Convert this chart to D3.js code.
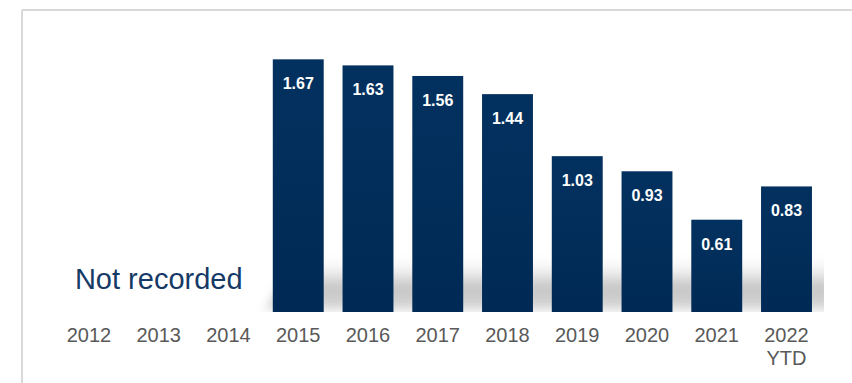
<!DOCTYPE html>
<html>
<head>
    <title>Yearly rate</title>
    <script src="https://d3js.org/d3.v7.min.js"></script>
    <style>
        body { margin: 0; background: #fff; }
        .tick-label {
            font-family: "Liberation Sans", Arial, sans-serif;
            font-size: 20px;
            fill: #595959;
        }
        .value-label {
            font-family: "Liberation Sans", Arial, sans-serif;
            font-size: 16px;
            font-weight: bold;
            fill: #fff;
        }
    </style>
</head>
<body>
<div id="chart"></div>

<script>
    // data
    var years = ["2012", "2013", "2014", "2015", "2016", "2017", "2018", "2019", "2020", "2021", "2022"];
    var yearLines = [["2012"], ["2013"], ["2014"], ["2015"], ["2016"], ["2017"], ["2018"], ["2019"], ["2020"], ["2021"], ["2022", "YTD"]];
    var values = [null, null, null, 1.67, 1.63, 1.56, 1.44, 1.03, 0.93, 0.61, 0.83];
    var missingNote = "Not recorded";

    var width = 852;
    var height = 383;
    var baseline = 312;

    var svg = d3.select("#chart").append("svg")
        .attr("width", width)
        .attr("height", height);

    var defs = svg.append("defs");

    var barGrad = defs.append("linearGradient")
        .attr("id", "barGrad")
        .attr("x1", 0).attr("y1", 0).attr("x2", 0).attr("y2", 1);
    barGrad.append("stop").attr("offset", "0%").attr("stop-color", "#03315f");
    barGrad.append("stop").attr("offset", "100%").attr("stop-color", "#002a55");

    var shadowGrad = defs.append("linearGradient")
        .attr("id", "shadowGrad")
        .attr("x1", 0).attr("y1", 0).attr("x2", 0).attr("y2", 1);
    shadowGrad.append("stop").attr("offset", "0%").attr("stop-color", "#ffffff").attr("stop-opacity", 0);
    shadowGrad.append("stop").attr("offset", "55%").attr("stop-color", "#c6c6c6").attr("stop-opacity", 1);
    shadowGrad.append("stop").attr("offset", "85%").attr("stop-color", "#d0d0d0").attr("stop-opacity", 1);
    shadowGrad.append("stop").attr("offset", "100%").attr("stop-color", "#f0f0f0").attr("stop-opacity", 1);

    defs.append("filter")
        .attr("id", "blur")
        .attr("x", "-10%").attr("y", "-30%").attr("width", "120%").attr("height", "160%")
        .append("feGaussianBlur")
        .attr("stdDeviation", 5);

    // frame lines
    svg.append("line")
        .attr("x1", 22).attr("y1", 10).attr("x2", width).attr("y2", 10)
        .attr("stroke", "#d9d9d9").attr("stroke-width", 2);
    svg.append("line")
        .attr("x1", 22).attr("y1", 10).attr("x2", 22).attr("y2", height)
        .attr("stroke", "#d9d9d9").attr("stroke-width", 2);

    var step = 69.75;
    var x = d3.scaleBand()
        .domain(years)
        .range([89 - step / 2, 89 - step / 2 + step * years.length])
        .paddingInner(0.27)
        .paddingOuter(0.135);

    var y = d3.scaleLinear()
        .domain([0, 2])
        .range([baseline, baseline - 302.6]);

    var data = years.map(function(d, i) {
        return { year: d, lines: yearLines[i], value: values[i] };
    });
    var recorded = data.filter(function(d) { return d.value !== null; });

    // soft floor shadow behind the bars, cut off sharply on the right
    var first = x(recorded[0].year);
    var last = x(recorded[recorded.length - 1].year) + x.bandwidth();
    defs.append("clipPath")
        .attr("id", "shadowClip")
        .append("rect")
        .attr("x", first - 30).attr("y", baseline - 90)
        .attr("width", last + 12 - (first - 30)).attr("height", 90);
    svg.append("g")
        .attr("clip-path", "url(#shadowClip)")
        .append("path")
        .attr("d", "M" + (first - 10) + "," + baseline +
            " L" + (first + 30) + "," + (baseline - 58) +
            " L" + (last + 30) + "," + (baseline - 58) +
            " L" + (last + 30) + "," + baseline + " Z")
        .attr("fill", "url(#shadowGrad)")
        .attr("filter", "url(#blur)");

    // bars
    svg.selectAll(".bar")
        .data(recorded)
        .enter().append("rect")
        .attr("class", "bar")
        .attr("x", function(d) { return x(d.year); })
        .attr("y", function(d) { return y(d.value); })
        .attr("width", x.bandwidth())
        .attr("height", function(d) { return baseline - y(d.value); })
        .attr("fill", "url(#barGrad)");

    // value labels inside the bars
    svg.selectAll(".value-label")
        .data(recorded)
        .enter().append("text")
        .attr("class", "value-label")
        .attr("x", function(d) { return x(d.year) + x.bandwidth() / 2; })
        .attr("y", function(d) { return y(d.value) + 30; })
        .attr("text-anchor", "middle")
        .text(function(d) { return d.value.toFixed(2); });

    // category labels
    var ticks = svg.selectAll(".tick-label")
        .data(data)
        .enter().append("text")
        .attr("class", "tick-label")
        .attr("text-anchor", "middle")
        .attr("transform", function(d) {
            return "translate(" + (x(d.year) + x.bandwidth() / 2) + "," + 342 + ")";
        });
    ticks.selectAll("tspan")
        .data(function(d) { return d.lines; })
        .enter().append("tspan")
        .attr("x", 0)
        .attr("dy", function(d, i) { return i === 0 ? 0 : 23; })
        .text(function(d) { return d; });

    // note over the empty years
    var missing = data.filter(function(d) { return d.value === null; });
    var mx = (x(missing[0].year) + x(missing[missing.length - 1].year) + x.bandwidth()) / 2;
    svg.append("text")
        .attr("x", mx)
        .attr("y", 289)
        .attr("text-anchor", "middle")
        .style("font-family", "'Liberation Sans', Arial, sans-serif")
        .style("font-size", "29px")
        .style("fill", "#163a66")
        .text(missingNote);
</script>
</body>
</html>
